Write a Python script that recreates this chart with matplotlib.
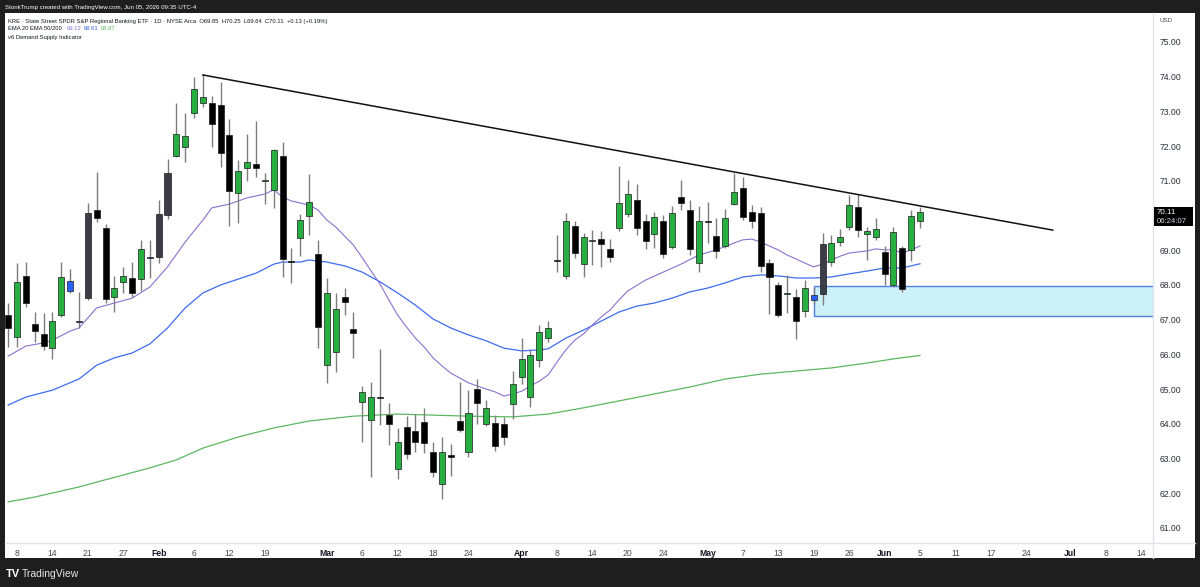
import matplotlib
matplotlib.use("Agg")
import matplotlib.pyplot as plt
from matplotlib.patches import Rectangle
from matplotlib.lines import Line2D

plt.rcParams['font.family'] = ['Liberation Sans', 'DejaVu Sans']

# daily candles, KRE, trading days from Jan 7 to Jun 5 (index 0..103)
opens = [67.13, 66.50, 68.26, 66.88, 66.59, 66.18, 67.13, 67.83, 66.96, 67.62,
         70.16, 69.64, 67.65, 68.09, 68.20, 68.17, 68.80, 68.81, 70.02, 71.72,
         71.97, 72.95, 73.24, 73.24, 73.18, 72.32, 70.65, 71.37, 71.49, 71.00,
         70.74, 71.72, 68.67, 69.35, 69.99, 68.89, 65.69, 66.07, 67.65, 66.73,
         64.63, 64.11, 64.78, 64.25, 62.70, 63.91, 63.79, 64.05, 63.19, 62.27,
         63.10, 64.08, 63.19, 65.00, 63.99, 64.02, 63.99, 64.57, 65.35, 64.77,
         65.84, 66.47, 68.71, 68.26, 69.70, 68.60, 69.26, 69.32, 69.04, 69.64,
         70.04, 70.45, 69.84, 69.47, 69.84, 69.09, 70.53, 70.16, 68.63, 69.82,
         69.41, 69.12, 70.33, 70.79, 70.10, 70.07, 68.63, 68.00, 67.73, 67.65,
         67.25, 67.57, 67.74, 68.66, 69.24, 69.67, 70.25, 69.47, 69.38, 68.95,
         68.00, 69.07, 69.01, 69.85]
highs = [67.48, 68.63, 68.66, 67.22, 67.19, 67.22, 68.66, 68.46, 67.80, 70.36,
         71.25, 69.76, 68.26, 68.52, 68.66, 69.30, 69.30, 70.45, 71.63, 73.24,
         72.95, 73.99, 74.08, 73.44, 73.85, 72.78, 71.60, 72.35, 72.72, 71.23,
         71.92, 72.12, 69.07, 70.04, 71.20, 69.30, 68.20, 67.77, 67.91, 67.22,
         65.09, 65.20, 66.16, 64.60, 63.88, 64.22, 64.28, 64.46, 63.48, 63.62,
         63.42, 65.20, 64.97, 65.29, 64.69, 64.25, 64.20, 65.52, 66.47, 66.13,
         66.85, 66.96, 69.44, 70.07, 69.84, 69.50, 69.58, 69.55, 69.32, 71.43,
         71.02, 70.91, 70.04, 70.10, 70.02, 70.28, 71.02, 70.45, 70.28, 70.39,
         69.93, 70.19, 71.23, 71.11, 70.30, 70.25, 68.75, 68.09, 68.29, 67.88,
         68.14, 67.94, 69.50, 69.44, 69.61, 70.59, 70.62, 69.67, 69.93, 69.12,
         69.67, 69.12, 70.16, 70.25]
lows = [66.21, 66.21, 67.37, 66.36, 66.13, 65.87, 67.08, 67.77, 66.76, 67.57,
        69.81, 67.48, 67.22, 67.77, 67.65, 67.83, 68.20, 68.63, 69.90, 71.69,
        71.54, 72.81, 73.13, 71.97, 71.40, 69.70, 69.79, 70.99, 71.11, 70.33,
        70.22, 68.23, 68.06, 68.83, 69.44, 66.18, 65.18, 65.49, 67.13, 65.90,
        63.48, 62.47, 63.97, 63.39, 62.41, 62.99, 63.19, 63.16, 62.47, 61.83,
        62.50, 63.76, 63.04, 63.99, 63.94, 63.22, 63.39, 64.14, 65.15, 64.48,
        65.64, 66.36, 68.37, 68.17, 68.78, 68.23, 68.58, 68.52, 68.66, 69.55,
        69.96, 69.44, 69.04, 69.07, 68.78, 69.04, 70.16, 68.86, 68.37, 69.21,
        68.78, 69.07, 70.30, 69.87, 69.64, 68.37, 67.16, 67.08, 67.19, 66.44,
        67.08, 67.45, 67.42, 68.55, 69.12, 69.58, 69.38, 68.72, 69.30, 68.00,
        67.94, 67.80, 68.69, 69.64]
closes = [66.76, 68.09, 67.48, 66.67, 66.24, 66.96, 68.23, 68.11, 66.92, 70.07,
          69.93, 67.60, 67.91, 68.26, 67.77, 69.04, 68.77, 70.04, 71.23, 72.35,
          72.29, 73.65, 73.42, 72.64, 71.80, 70.71, 71.28, 71.54, 71.37, 71.01,
          71.89, 68.75, 68.66, 69.87, 70.39, 66.79, 67.77, 67.31, 67.51, 66.62,
          64.92, 64.77, 64.75, 63.99, 63.48, 63.13, 63.48, 63.45, 62.61, 63.19,
          63.04, 63.82, 64.31, 64.60, 64.46, 63.36, 63.62, 65.15, 65.87, 65.98,
          66.64, 66.76, 68.69, 69.84, 68.92, 69.38, 69.28, 69.18, 68.81, 70.36,
          70.62, 69.64, 69.27, 69.96, 68.89, 70.07, 70.36, 69.04, 69.84, 69.80,
          68.98, 69.93, 70.68, 69.96, 69.84, 68.55, 68.23, 67.13, 67.75, 66.96,
          67.91, 67.71, 69.18, 69.21, 69.38, 70.30, 69.58, 69.55, 69.61, 68.32,
          69.53, 67.88, 69.99, 70.11]

# bars painted by the demand/supply indicator
gray_bars = [9, 17, 18, 92]
blue_bars = [7, 8, 16, 91]

# EMA lines (bar index, price)
ema20_k = [0, 2, 4, 5, 7, 8, 10, 12, 14, 16, 18, 20, 22, 23, 25, 27, 29, 30, 31, 32,
           33, 34, 35, 36, 37, 38, 39, 40, 41, 42, 43, 44, 45, 46, 47, 48, 49, 50, 51,
           52, 53, 54, 55, 56, 57, 58, 59, 60, 61, 62, 63, 64, 65, 66, 67, 68, 69, 70,
           72, 74, 76, 78, 80, 82, 83, 84, 85, 86, 87, 88, 89, 90, 91, 92, 93, 94, 95,
           96, 97, 98, 99, 100, 101, 102, 103]
ema20_p = [65.95, 66.24, 66.33, 66.41, 66.67, 66.76, 67.34, 67.48, 67.62, 67.94,
           68.52, 69.24, 69.87, 70.22, 70.33, 70.51, 70.62, 70.74, 70.53, 70.42,
           70.36, 70.30, 70.16, 69.87, 69.67, 69.41, 69.15, 68.78, 68.40, 68.03,
           67.57, 67.13, 66.79, 66.47, 66.21, 65.90, 65.67, 65.46, 65.32, 65.18,
           65.09, 65.00, 64.92, 64.80, 64.86, 64.94, 65.09, 65.23, 65.41, 65.78,
           66.13, 66.41, 66.59, 66.85, 67.08, 67.28, 67.57, 67.83, 68.14, 68.37,
           68.60, 68.86, 69.01, 69.21, 69.30, 69.32, 69.24, 69.12, 69.01, 68.86,
           68.75, 68.63, 68.52, 68.60, 68.72, 68.83, 68.92, 68.95, 68.98, 69.04,
           69.01, 69.01, 68.92, 69.01, 69.12]

ema50_k = [0, 2, 5, 8, 10, 12, 14, 16, 18, 20, 22, 24, 26, 28, 30, 31, 33, 34, 36,
           38, 40, 42, 44, 46, 48, 50, 52, 54, 56, 58, 60, 61, 63, 65, 67, 69, 71,
           73, 75, 77, 79, 81, 83, 85, 87, 89, 91, 93, 95, 97, 99, 101, 103]
ema50_p = [64.54, 64.77, 64.97, 65.29, 65.69, 65.90, 66.04, 66.30, 66.76, 67.34,
           67.77, 68.00, 68.17, 68.34, 68.60, 68.66, 68.66, 68.72, 68.66, 68.55,
           68.37, 68.09, 67.77, 67.42, 67.02, 66.76, 66.56, 66.39, 66.18, 66.10,
           66.13, 66.16, 66.47, 66.70, 66.96, 67.22, 67.39, 67.48, 67.62, 67.80,
           67.91, 68.06, 68.23, 68.29, 68.26, 68.20, 68.20, 68.23, 68.32, 68.40,
           68.49, 68.49, 68.61]

ema200_k = [0, 3, 8, 10, 16, 19, 22, 26, 30, 34, 39, 44, 48, 52, 57, 61, 65, 69,
            73, 77, 81, 85, 89, 93, 97, 100, 103]
ema200_p = [61.75, 61.89, 62.18, 62.32, 62.73, 62.96, 63.30, 63.62, 63.88, 64.08,
            64.22, 64.28, 64.25, 64.22, 64.20, 64.28, 64.46, 64.66, 64.86, 65.06,
            65.29, 65.43, 65.52, 65.61, 65.75, 65.87, 65.97]

# trendline from the Feb high, demand zone box
trend_k = [22, 118]
trend_p = [74.05, 69.58]
zone_start = 91
zone_low = 67.10
zone_high = 67.97

# time axis labels (bar index -> text)
tick_k = [1, 5, 9, 13, 17, 21, 25, 29, 36, 40, 44, 48, 52, 58, 62, 66, 70, 74,
          79, 83, 87, 91, 95, 99, 103, 107, 111, 115, 120, 124, 128]
tick_lbl = ['8', '14', '21', '27', 'Feb', '6', '12', '19', 'Mar', '6', '12', '18',
            '24', 'Apr', '8', '14', '20', '24', 'May', '7', '13', '19', '26', 'Jun',
            '5', '11', '17', '24', 'Jul', '8', '14']
months = ['Feb', 'Mar', 'Apr', 'May', 'Jun', 'Jul']
price_ticks = [61, 62, 63, 64, 65, 66, 67, 68, 69, 71, 72, 73, 74, 75]

W, H = 1200, 587


def fx(px):
    return px / W


def fy(py):
    return 1 - py / H


def candles(ax):
    for i in range(len(opens)):
        o, h, l, c = opens[i], highs[i], lows[i], closes[i]
        if i in gray_bars:
            col = '#3b3e46'
        elif i in blue_bars:
            col = '#2962ff'
        elif c >= o:
            col = '#27b041'
        else:
            col = '#000000'
        ax.vlines(i, l, h, color='#7d7d7d', lw=1, zorder=2)
        body = max(abs(c - o), 0.03)
        ax.bar(i, body, bottom=min(o, c), width=0.68, color=col,
               edgecolor='#1a1a1a', lw=0.5, zorder=3)


fig = plt.figure(figsize=(W / 100, H / 100), dpi=100, facecolor='#1e1e1e')
# white chart panel (behind the axes)
fig.patches.append(Rectangle((fx(5), fy(558)), 1190 / W, 545 / H, transform=fig.transFigure,
                             facecolor='white', edgecolor='none', zorder=-5))

ax = fig.add_axes([fx(5), fy(543), 1148 / W, 530 / H])
ax.set_facecolor('white')
ax.set_xlim(-0.356, 129.32)
ax.set_ylim(60.566, 75.835)

# demand zone
ax.add_patch(Rectangle((zone_start, zone_low), 140 - zone_start, zone_high - zone_low,
                       facecolor='#cdf1f9', edgecolor='#4f7fe6', lw=1, zorder=1))

ax.plot(ema200_k, ema200_p, color='#5cb860', lw=0.9, zorder=1.5)
ax.plot(ema50_k, ema50_p, color='#3d6cf0', lw=0.9, zorder=1.5)
ax.plot(ema20_k, ema20_p, color='#8d6fcf', lw=0.8, zorder=1.5)
candles(ax)
ax.plot(trend_k, trend_p, color='#111111', lw=1.1, zorder=4)

for s in ['top', 'left', 'right', 'bottom']:
    ax.spines[s].set_visible(False)

ax.set_xticks(tick_k)
ax.set_xticklabels(tick_lbl)
for t in ax.get_xticklabels():
    if t.get_text() in months:
        t.set_fontweight('bold')
        t.set_color('#131722')
    else:
        t.set_color('#4a4a4a')
ax.tick_params(axis='x', length=0, pad=4, labelsize=6.2)

ax.yaxis.tick_right()
ax.set_yticks(price_ticks)
ax.set_yticklabels(['%.2f' % p for p in price_ticks])
ax.tick_params(axis='y', length=0, pad=5, labelsize=6.2, labelcolor='#2a2e39')

# axis separators
fig.lines.append(Line2D([fx(5), fx(1195)], [fy(543), fy(543)], transform=fig.transFigure,
                        color='#e0e3eb', lw=1))
fig.lines.append(Line2D([fx(1153), fx(1153)], [fy(13), fy(558)], transform=fig.transFigure,
                        color='#e0e3eb', lw=1))

# last price tag
fig.patches.append(Rectangle((fx(1154), fy(226)), 39 / W, 19 / H, transform=fig.transFigure,
                             facecolor='#000000', edgecolor='none', zorder=5))
fig.text(fx(1157), fy(212), '70.11', color='white', fontsize=5.8, va='center', zorder=6)
fig.text(fx(1157), fy(221.5), '06:24:07', color='#d1d4dc', fontsize=5.6, va='center', zorder=6)
fig.text(fx(1160), fy(21), 'USD', color='#4a4a4a', fontsize=4.5, va='center')

# header texts
fig.text(fx(5), fy(7), 'StonkTrump created with TradingView.com, Jun 05, 2026 09:35 UTC-4',
         color='white', fontsize=4.4, va='center')
fig.text(fx(8), fy(21), 'KRE \u00b7 State Street SPDR S&P Regional Banking ETF \u00b7 1D \u00b7 NYSE Arca  '
         'O69.85  H70.25  L69.64  C70.11  +0.13 (+0.19%)', color='#131722', fontsize=4.2, va='center')
fig.text(fx(8), fy(29), 'EMA 20 EMA 50/200', color='#131722', fontsize=4.2, va='center')
fig.text(fx(67), fy(29), '69.12', color='#8d6fcf', fontsize=4.2, va='center')
fig.text(fx(84), fy(29), '68.61', color='#3d6cf0', fontsize=4.2, va='center')
fig.text(fx(101), fy(29), '65.97', color='#5cb860', fontsize=4.2, va='center')
fig.text(fx(8), fy(37), 'v6 Demand Supply Indicator', color='#131722', fontsize=4.2, va='center')

# logo at the bottom
fig.text(fx(6), fy(574), 'TV', color='white', fontsize=8, fontweight='heavy', va='center')
fig.text(fx(22), fy(574), 'TradingView', color='#e6e6e6', fontsize=7.5, va='center')

fig.savefig('out.png', dpi=100, facecolor=fig.get_facecolor())
